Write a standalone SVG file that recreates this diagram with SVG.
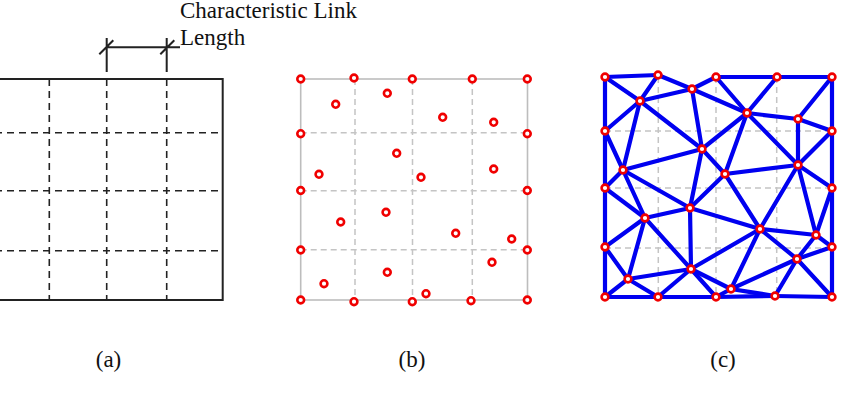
<svg xmlns="http://www.w3.org/2000/svg" width="842" height="402" viewBox="0 0 842 402">
<style>
.txt{font-family:"Liberation Serif","Times New Roman",serif;font-size:23px;fill:#111}
.blk{stroke:#222;stroke-width:2;fill:none}
.bdash{stroke:#222;stroke-width:1.6;stroke-dasharray:7,5;fill:none}
.gsol{stroke:#bdbdbd;stroke-width:1.6;fill:none}
.gdash{stroke:#c4c4c4;stroke-width:1.5;stroke-dasharray:6,4;fill:none}
.e{stroke:#0000f0;stroke-width:4.2;stroke-linecap:round}
.n{fill:#fff;stroke:#f00000;stroke-width:2.6}
</style>
<rect width="842" height="402" fill="#fff"/>

<!-- Panel (a) -->
<g id="panel-a">
  <path class="blk" d="M-5 79 H222.7 V300 H-5"/>
  <path class="bdash" d="M49.3 79 V300 M106.7 79 V300 M166.7 79 V300 M-5 132.7 H222.7 M-5 190.7 H222.7 M-5 250.7 H222.7"/>
  <path class="blk" stroke-width="1.5" d="M106.7 38 V72 M166.7 38 V72 M106.7 47.3 H180 M99.3 54.3 L113.3 40.3 M160.3 54.3 L174.3 40.3"/>
  <text class="txt" x="180" y="18">Characteristic Link</text>
  <text class="txt" x="180" y="45">Length</text>
</g>

<!-- Panel (b) -->
<g id="panel-b">
  <path class="gdash" d="M355 79 V300 M412.5 79 V300 M472.3 79 V300 M300.7 132.7 H527.5 M300.7 190.7 H527.5 M300.7 249.7 H527.5"/>
  <rect class="gsol" x="300.7" y="79" width="226.8" height="221"/>
  <g id="b-nodes">
    <g id="b1"><circle class="n" cx="300.7" cy="79" r="3.4"/></g>
    <g id="b2"><circle class="n" cx="354" cy="78" r="3.4"/></g>
    <g id="b3"><circle class="n" cx="412.3" cy="79" r="3.4"/></g>
    <g id="b4"><circle class="n" cx="472.3" cy="79" r="3.4"/></g>
    <g id="b5"><circle class="n" cx="527.3" cy="79" r="3.4"/></g>
    <g id="b6"><circle class="n" cx="335.7" cy="104.3" r="3.4"/></g>
    <g id="b7"><circle class="n" cx="387.3" cy="93.3" r="3.4"/></g>
    <g id="b8"><circle class="n" cx="442.7" cy="117.3" r="3.4"/></g>
    <g id="b9"><circle class="n" cx="493.7" cy="122.3" r="3.4"/></g>
    <g id="b10"><circle class="n" cx="300.7" cy="133.7" r="3.4"/></g>
    <g id="b11"><circle class="n" cx="527.3" cy="133.7" r="3.4"/></g>
    <g id="b12"><circle class="n" cx="396.7" cy="153.3" r="3.4"/></g>
    <g id="b13"><circle class="n" cx="319" cy="174.3" r="3.4"/></g>
    <g id="b14"><circle class="n" cx="421" cy="177.3" r="3.4"/></g>
    <g id="b15"><circle class="n" cx="493.7" cy="169" r="3.4"/></g>
    <g id="b16"><circle class="n" cx="300.7" cy="190.5" r="3.4"/></g>
    <g id="b17"><circle class="n" cx="527.3" cy="190.5" r="3.4"/></g>
    <g id="b18"><circle class="n" cx="340.7" cy="222" r="3.4"/></g>
    <g id="b19"><circle class="n" cx="386" cy="212.3" r="3.4"/></g>
    <g id="b20"><circle class="n" cx="455.7" cy="233.3" r="3.4"/></g>
    <g id="b21"><circle class="n" cx="511.7" cy="239" r="3.4"/></g>
    <g id="b22"><circle class="n" cx="300.7" cy="250" r="3.4"/></g>
    <g id="b23"><circle class="n" cx="527.3" cy="250" r="3.4"/></g>
    <g id="b24"><circle class="n" cx="492" cy="262.3" r="3.4"/></g>
    <g id="b25"><circle class="n" cx="387.3" cy="272.3" r="3.4"/></g>
    <g id="b26"><circle class="n" cx="324" cy="283.7" r="3.4"/></g>
    <g id="b27"><circle class="n" cx="426" cy="293.7" r="3.4"/></g>
    <g id="b28"><circle class="n" cx="300.7" cy="300" r="3.4"/></g>
    <g id="b29"><circle class="n" cx="354" cy="301.7" r="3.4"/></g>
    <g id="b30"><circle class="n" cx="412.3" cy="301.7" r="3.4"/></g>
    <g id="b31"><circle class="n" cx="471" cy="300.7" r="3.4"/></g>
    <g id="b32"><circle class="n" cx="527.3" cy="300" r="3.4"/></g>
  </g>
</g>

<!-- Panel (c) -->
<g id="panel-c-grid">
  <path class="gdash" d="M658.3 77 V297 M716 77 V297 M776.7 77 V297 M605 131 H832 M605 188 H832 M605 248 H832"/>
</g>
<g id="connectors">
  <!-- boundary -->
  <line class="e" x1="605" y1="77" x2="658" y2="75"/>
  <line class="e" x1="716" y1="77" x2="777" y2="77"/>
  <line class="e" x1="777" y1="77" x2="832" y2="77"/>
  <line class="e" x1="605" y1="77" x2="605" y2="131"/>
  <line class="e" x1="605" y1="131" x2="605" y2="188"/>
  <line class="e" x1="605" y1="188" x2="605" y2="247"/>
  <line class="e" x1="605" y1="247" x2="605" y2="297"/>
  <line class="e" x1="832" y1="77" x2="832" y2="131"/>
  <line class="e" x1="832" y1="131" x2="832" y2="188"/>
  <line class="e" x1="832" y1="188" x2="832" y2="247"/>
  <line class="e" x1="832" y1="247" x2="832" y2="297"/>
  <line class="e" x1="605" y1="297" x2="658" y2="297"/>
  <line class="e" x1="658" y1="297" x2="716" y2="297"/>
  <line class="e" x1="716" y1="297" x2="775" y2="296"/>
  <line class="e" x1="775" y1="296" x2="832" y2="297"/>
  <!-- interior -->
  <line class="e" x1="605" y1="77" x2="640" y2="101"/>
  <line class="e" x1="640" y1="101" x2="658" y2="75"/>
  <line class="e" x1="658" y1="75" x2="692" y2="89"/>
  <line class="e" x1="692" y1="89" x2="716" y2="77"/>
  <line class="e" x1="640" y1="101" x2="692" y2="89"/>
  <line class="e" x1="716" y1="77" x2="747" y2="113"/>
  <line class="e" x1="692" y1="89" x2="747" y2="113"/>
  <line class="e" x1="777" y1="77" x2="747" y2="113"/>
  <line class="e" x1="747" y1="113" x2="798" y2="119"/>
  <line class="e" x1="832" y1="77" x2="798" y2="119"/>
  <line class="e" x1="798" y1="119" x2="798" y2="165"/>
  <line class="e" x1="798" y1="119" x2="832" y2="131"/>
  <line class="e" x1="832" y1="131" x2="798" y2="165"/>
  <line class="e" x1="798" y1="165" x2="832" y2="188"/>
  <line class="e" x1="747" y1="113" x2="702" y2="149"/>
  <line class="e" x1="747" y1="113" x2="725" y2="174"/>
  <line class="e" x1="747" y1="113" x2="798" y2="165"/>
  <line class="e" x1="725" y1="174" x2="798" y2="165"/>
  <line class="e" x1="640" y1="101" x2="702" y2="149"/>
  <line class="e" x1="692" y1="89" x2="702" y2="149"/>
  <line class="e" x1="640" y1="101" x2="623" y2="170"/>
  <line class="e" x1="640" y1="101" x2="605" y2="131"/>
  <line class="e" x1="605" y1="131" x2="623" y2="170"/>
  <line class="e" x1="623" y1="170" x2="702" y2="149"/>
  <line class="e" x1="623" y1="170" x2="605" y2="188"/>
  <line class="e" x1="702" y1="149" x2="725" y2="174"/>
  <line class="e" x1="623" y1="170" x2="690" y2="208"/>
  <line class="e" x1="702" y1="149" x2="690" y2="208"/>
  <line class="e" x1="725" y1="174" x2="690" y2="208"/>
  <line class="e" x1="725" y1="174" x2="760" y2="229"/>
  <line class="e" x1="798" y1="165" x2="760" y2="229"/>
  <line class="e" x1="798" y1="165" x2="816" y2="235"/>
  <line class="e" x1="832" y1="188" x2="816" y2="235"/>
  <line class="e" x1="605" y1="188" x2="645" y2="218"/>
  <line class="e" x1="623" y1="170" x2="645" y2="218"/>
  <line class="e" x1="645" y1="218" x2="690" y2="208"/>
  <line class="e" x1="645" y1="218" x2="605" y2="247"/>
  <line class="e" x1="645" y1="218" x2="628" y2="279"/>
  <line class="e" x1="645" y1="218" x2="691" y2="269"/>
  <line class="e" x1="690" y1="208" x2="691" y2="269"/>
  <line class="e" x1="690" y1="208" x2="760" y2="229"/>
  <line class="e" x1="760" y1="229" x2="691" y2="269"/>
  <line class="e" x1="760" y1="229" x2="731" y2="289"/>
  <line class="e" x1="760" y1="229" x2="816" y2="235"/>
  <line class="e" x1="760" y1="229" x2="797" y2="259"/>
  <line class="e" x1="816" y1="235" x2="797" y2="259"/>
  <line class="e" x1="816" y1="235" x2="832" y2="247"/>
  <line class="e" x1="797" y1="259" x2="832" y2="247"/>
  <line class="e" x1="797" y1="259" x2="832" y2="297"/>
  <line class="e" x1="797" y1="259" x2="775" y2="296"/>
  <line class="e" x1="797" y1="259" x2="731" y2="289"/>
  <line class="e" x1="605" y1="247" x2="628" y2="279"/>
  <line class="e" x1="628" y1="279" x2="605" y2="297"/>
  <line class="e" x1="628" y1="279" x2="658" y2="297"/>
  <line class="e" x1="628" y1="279" x2="691" y2="269"/>
  <line class="e" x1="691" y1="269" x2="658" y2="297"/>
  <line class="e" x1="691" y1="269" x2="716" y2="297"/>
  <line class="e" x1="691" y1="269" x2="731" y2="289"/>
  <line class="e" x1="731" y1="289" x2="716" y2="297"/>
  <line class="e" x1="731" y1="289" x2="775" y2="296"/>
</g>
<g id="c-nodes">
  <g id="cA"><circle class="n" cx="605" cy="77" r="3.4"/></g>
  <g id="cB"><circle class="n" cx="658" cy="75" r="3.4"/></g>
  <g id="cC"><circle class="n" cx="716" cy="77" r="3.4"/></g>
  <g id="cD"><circle class="n" cx="777" cy="77" r="3.4"/></g>
  <g id="cE"><circle class="n" cx="832" cy="77" r="3.4"/></g>
  <g id="cF"><circle class="n" cx="640" cy="101" r="3.4"/></g>
  <g id="cG"><circle class="n" cx="692" cy="89" r="3.4"/></g>
  <g id="cH"><circle class="n" cx="747" cy="113" r="3.4"/></g>
  <g id="cI"><circle class="n" cx="798" cy="119" r="3.4"/></g>
  <g id="cJ"><circle class="n" cx="605" cy="131" r="3.4"/></g>
  <g id="cK"><circle class="n" cx="832" cy="131" r="3.4"/></g>
  <g id="cL"><circle class="n" cx="702" cy="149" r="3.4"/></g>
  <g id="cM"><circle class="n" cx="623" cy="170" r="3.4"/></g>
  <g id="cN"><circle class="n" cx="725" cy="174" r="3.4"/></g>
  <g id="cO"><circle class="n" cx="798" cy="165" r="3.4"/></g>
  <g id="cP"><circle class="n" cx="605" cy="188" r="3.4"/></g>
  <g id="cQ"><circle class="n" cx="832" cy="188" r="3.4"/></g>
  <g id="cR"><circle class="n" cx="645" cy="218" r="3.4"/></g>
  <g id="cS"><circle class="n" cx="690" cy="208" r="3.4"/></g>
  <g id="cT"><circle class="n" cx="760" cy="229" r="3.4"/></g>
  <g id="cU"><circle class="n" cx="816" cy="235" r="3.4"/></g>
  <g id="cV"><circle class="n" cx="605" cy="247" r="3.4"/></g>
  <g id="cW"><circle class="n" cx="832" cy="247" r="3.4"/></g>
  <g id="cX"><circle class="n" cx="797" cy="259" r="3.4"/></g>
  <g id="cY"><circle class="n" cx="691" cy="269" r="3.4"/></g>
  <g id="cZ"><circle class="n" cx="628" cy="279" r="3.4"/></g>
  <g id="cAA"><circle class="n" cx="731" cy="289" r="3.4"/></g>
  <g id="cB1"><circle class="n" cx="605" cy="297" r="3.4"/></g>
  <g id="cB2"><circle class="n" cx="658" cy="297" r="3.4"/></g>
  <g id="cB3"><circle class="n" cx="716" cy="297" r="3.4"/></g>
  <g id="cB4"><circle class="n" cx="775" cy="296" r="3.4"/></g>
  <g id="cB5"><circle class="n" cx="832" cy="297" r="3.4"/></g>
</g>

<g id="labels">
  <text class="txt" x="108.5" y="367" text-anchor="middle">(a)</text>
  <text class="txt" x="412" y="367" text-anchor="middle">(b)</text>
  <text class="txt" x="723" y="367" text-anchor="middle">(c)</text>
</g>
</svg>
